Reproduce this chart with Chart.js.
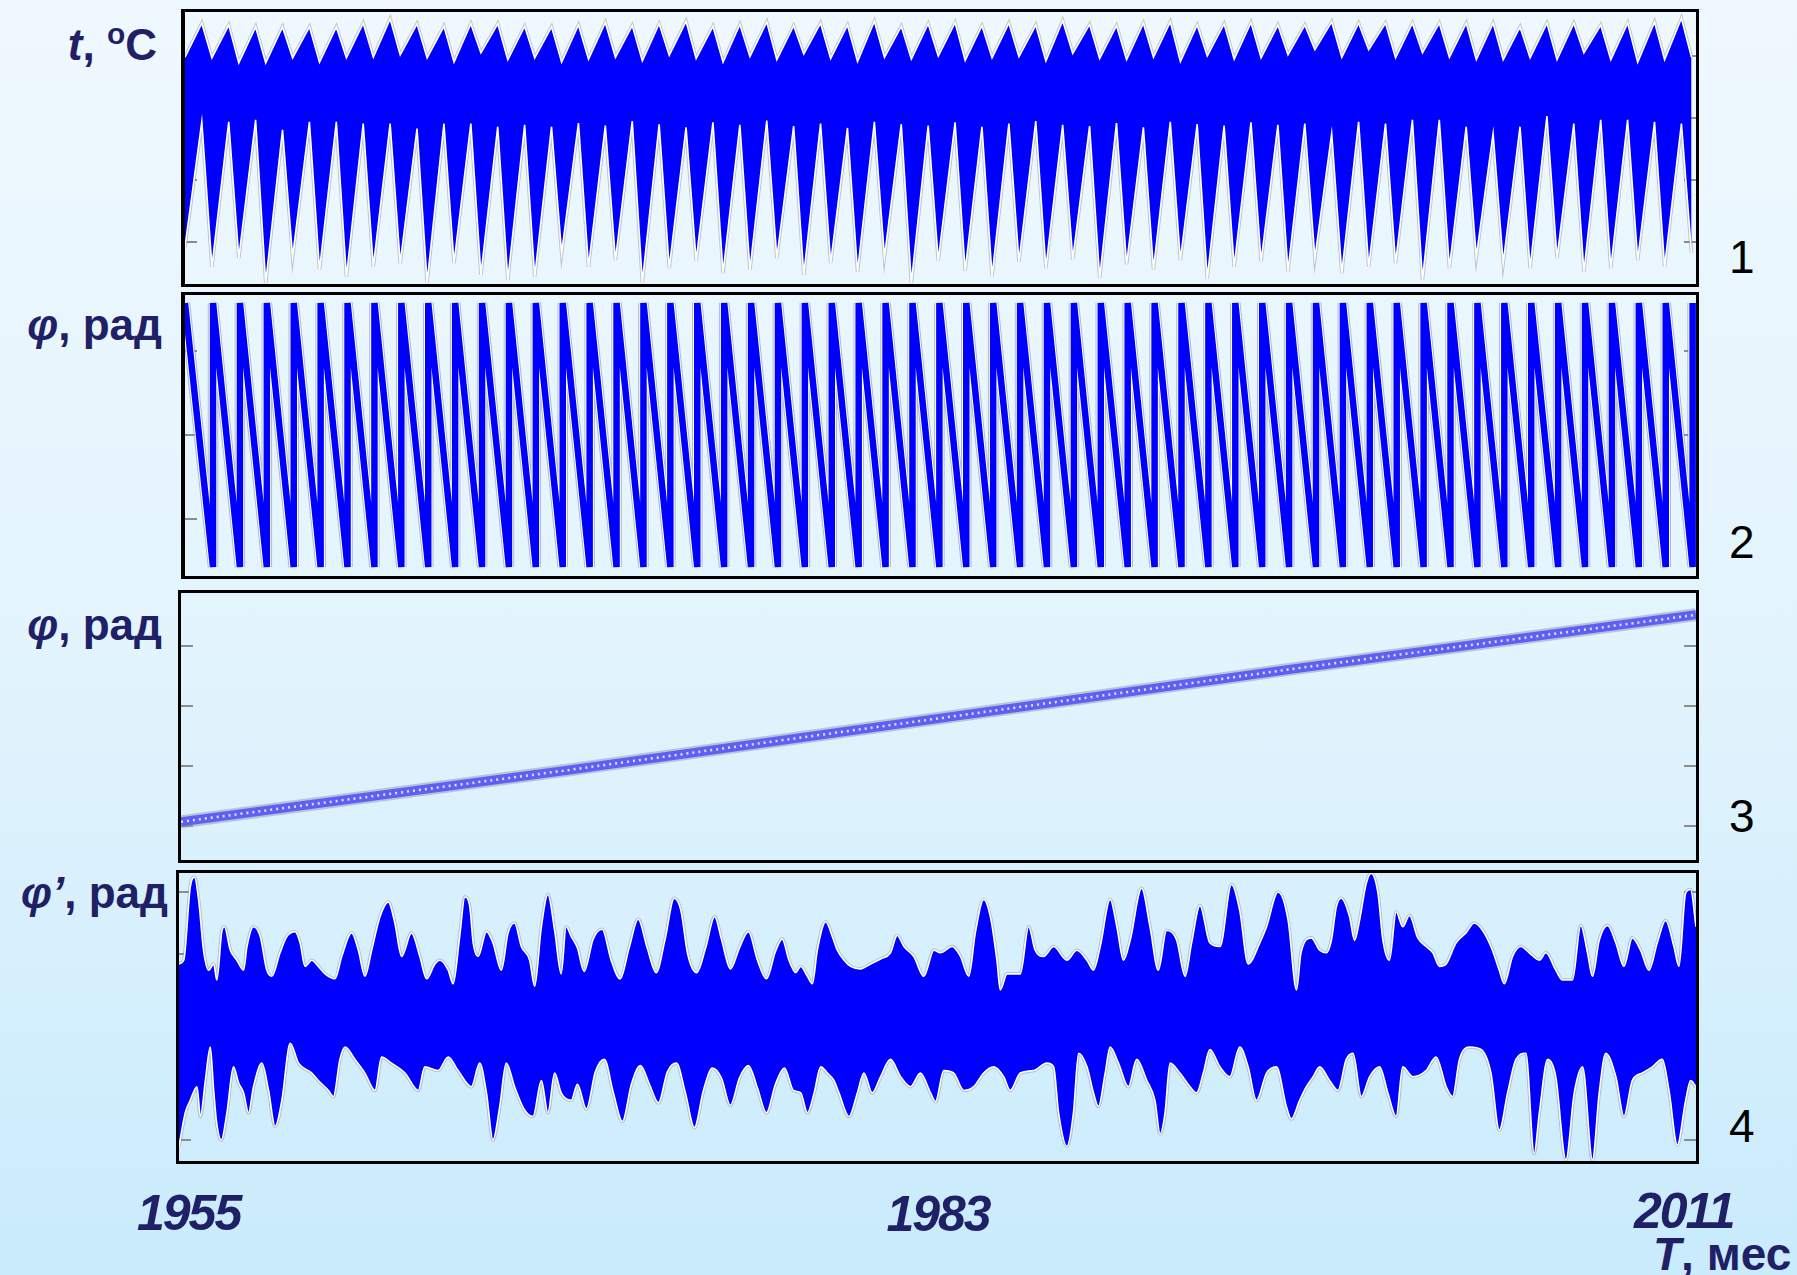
<!DOCTYPE html>
<html>
<head>
<meta charset="utf-8">
<script src="https://cdn.jsdelivr.net/npm/chart.js@4.4.1/dist/chart.umd.min.js"></script>
<style>
  html, body { margin: 0; padding: 0; }
  body {
    width: 1797px; height: 1275px; position: relative; overflow: hidden;
    background: linear-gradient(to bottom, #eff8fe 0%, #e3f4fd 50%, #c9ebfc 100%);
    font-family: "Liberation Sans", Arial, sans-serif;
  }
  .panel { position: absolute; }
  .panel canvas { position: absolute; }
  .frame { position: absolute; left: 0; top: 0; right: 0; bottom: 0; box-sizing: border-box;
           border: 3px solid #000; pointer-events: none; }
  .ylbl { position: absolute; left: 0; color: #1f2066; font-weight: bold; font-size: 44px;
          line-height: 44px; white-space: nowrap; text-align: right; }
  .ylbl .sup { font-size: 0.68em; position: relative; top: -0.55em; }
  .xlbl { position: absolute; color: #1f2066; font-weight: bold; font-style: italic; font-size: 50px;
          line-height: 50px; letter-spacing: -2px; white-space: nowrap; }
  .xtitle { position: absolute; color: #1f2066; font-weight: bold; font-size: 46px; line-height: 46px;
            white-space: nowrap; }
  .num { position: absolute; left: 1729px; color: #000; font-size: 46px; line-height: 46px; }
</style>
</head>
<body>

<div class="ylbl" style="top:23px;width:157px"><i>t</i>, <span class="sup">o</span>C</div>
<div class="ylbl" style="top:303px;width:162px"><i>φ</i>, рад</div>
<div class="ylbl" style="top:603px;width:162px"><i>φ</i>, рад</div>
<div class="ylbl" style="top:871px;width:168px"><i>φ’</i>, рад</div>

<div class="panel" id="p1" style="left:181px;top:9px;width:1518px;height:278px">
  <canvas id="c1" width="1511" height="272" style="left:4px;top:3px"></canvas>
  <div class="frame" style="border-left-width:4px"></div>
</div>
<div class="panel" id="p2" style="left:181px;top:292px;width:1518px;height:287px">
  <canvas id="c2" width="1511" height="281" style="left:4px;top:3px"></canvas>
  <div class="frame" style="border-left-width:4px"></div>
</div>
<div class="panel" id="p3" style="left:178px;top:590px;width:1521px;height:273px">
  <canvas id="c3" width="1515" height="267" style="left:3px;top:3px"></canvas>
  <div class="frame"></div>
</div>
<div class="panel" id="p4" style="left:176px;top:870px;width:1523px;height:294px">
  <canvas id="c4" width="1517" height="288" style="left:3px;top:3px"></canvas>
  <div class="frame"></div>
</div>

<div class="num" style="top:234px">1</div>
<div class="num" style="top:519px">2</div>
<div class="num" style="top:793px">3</div>
<div class="num" style="top:1103px">4</div>

<div id="xlabels"></div>
<div class="xtitle" style="left:1653px;top:1231px"><i>T</i>, мес</div>

<script>
// ---- time axis: months counted from January 1955 ----
const monthSpan = [0, 674];
const yearLabels = ['1955', '1983', '2011'];

// ---- panel 1: daily temperature, °C ----
// Envelope readings for each year k (winter = month 12k, summer = month 12k + 7.5)
const winterMonth = 0;
const summerMonth = 7.5;
const tempWinterMin = [
  -20.8, -24.0, -22.6, -26.6, -22.4, -24.5, -25.6, -24.0, -23.4, -26.5,
  -23.4, -25.3, -26.1, -25.6, -21.8, -24.0, -22.9, -26.5, -24.2, -23.0,
  -25.0, -24.5, -22.6, -25.3, -23.4, -24.8, -22.4, -26.6, -23.0, -24.6,
  -25.5, -23.2, -24.2, -22.8, -25.8, -23.6, -24.4, -22.9, -25.9, -24.0,
  -23.1, -24.7, -22.6, -25.0, -24.0, -23.4, -26.1, -24.2, -22.4, -23.4,
  -24.2, -22.6, -24.8, -24.2, -22.9, -24.0, -21.8
];
const tempWinterMax = [
  9.8, 9.7, 8.9, 8.9, 9.7, 9.0, 9.7, 9.8, 10.2, 9.7,
  9.0, 10.5, 9.4, 9.7, 9.0, 9.5, 9.8, 9.2, 10.1, 9.6,
  9.0, 9.9, 9.4, 10.3, 9.6, 9.1, 9.8, 9.5, 10.0, 9.3,
  9.7, 9.9, 9.2, 10.4, 9.6, 9.4, 9.8, 9.1, 10.0, 9.5,
  9.7, 10.2, 11.0, 9.8, 11.0, 9.7, 10.5, 9.8, 9.4, 9.4,
  9.7, 9.4, 10.5, 9.4, 9.0, 9.4, 9.8
];
const tempSummerMax = [
  15.3, 15.0, 14.7, 14.7, 14.7, 14.7, 15.3, 16.0, 15.2, 14.8,
  15.2, 15.2, 14.8, 14.7, 15.0, 15.4, 14.9, 15.2, 15.6, 14.8,
  15.1, 15.5, 14.9, 15.3, 15.0, 15.6, 14.8, 15.2, 15.4, 14.9,
  15.3, 15.0, 15.7, 15.1, 14.9, 15.3, 15.5, 15.0, 15.2, 15.4,
  15.0, 15.0, 15.5, 15.3, 15.3, 15.3, 15.3, 15.3, 15.3, 14.7,
  15.3, 15.3, 15.0, 15.3, 15.5, 16.1
];
const tempSummerMin = [
  -0.6, -0.6, -0.3, -1.9, -0.6, -0.6, -0.9, -0.9, -1.7, -0.9,
  -0.9, -1.4, -1.1, -1.4, -0.8, -1.2, -0.5, -1.0, -1.5, -0.7,
  -1.1, -0.4, -1.3, -0.9, -1.6, -0.6, -1.0, -1.2, -0.7, -1.4,
  -0.9, -0.5, -1.1, -1.3, -0.8, -1.5, -0.6, -1.0, -1.2, -0.7,
  -1.1, -0.9, -2.5, -0.6, -0.9, -0.3, -0.3, -1.4, -2.5, -1.4,
  0.3, -0.9, -0.3, -0.3, -0.6, -0.9
];
const tempTicks = [-20, -10, 0, 10];

// ---- panel 2: wrapped phase, rad ----
const phaseTop = 3.14;
const phaseBottom = -3.14;
const phaseWrapOffset = 0.5;   // months after January where the phase wraps
const phaseTicks = [-2, 0, 2];

// ---- panel 3: unwrapped phase, rad ----
const unwrapMonths = [0, 172, 497, 674];
const unwrapValues = [7, 93, 263, 352];
const unwrapTicks = [0, 100, 200, 300];

// ---- panel 4: phase residual φ', rad  [month, value] ----
const resUpper = [
  [0,0.42],[2.1,0.45],[5.0,1.04],[6.9,1.12],[8.7,0.94],[10.9,0.53],[13.2,0.37],[15.4,0.42],[16.8,0.29],
  [19.1,0.69],[20.2,0.72],[22.8,0.53],[25.7,0.45],[28.7,0.37],[30.2,0.56],[33.1,0.72],[36.1,0.64],
  [39.0,0.37],[41.2,0.32],[44.9,0.51],[47.9,0.64],[51.6,0.68],[53.8,0.59],[56.0,0.40],[59.0,0.45],
  [61.9,0.40],[64.9,0.34],[69.3,0.30],[72.3,0.48],[76.7,0.67],[79.7,0.53],[82.6,0.32],[85.6,0.53],
  [89.3,0.80],[93.0,0.92],[95.9,0.75],[98.9,0.48],[103.3,0.67],[107.0,0.48],[110.0,0.30],[113.7,0.42],
  [115.9,0.45],[119.6,0.37],[121.8,0.26],[124.7,0.64],[127.0,0.96],[129.2,0.88],[130.7,0.59],[132.9,0.48],
  [136.6,0.68],[139.5,0.59],[143.2,0.37],[146.2,0.67],[149.1,0.75],[152.1,0.56],[155.8,0.45],[158.0,0.24],
  [161.0,0.72],[163.9,0.98],[166.9,0.69],[169.8,0.34],[172.0,0.72],[174.3,0.64],
  [177,0.55],[180,0.36],[184,0.62],[188,0.70],[192,0.45],[196,0.30],[200,0.55],[204,0.78],[208,0.55],
  [212,0.35],[216,0.62],[220,0.95],[223,0.85],[226,0.50],[230,0.35],[234,0.55],[238,0.80],[241,0.62],
  [245,0.38],[249,0.55],[253,0.68],[257,0.45],[261,0.30],[265,0.52],[268,0.62],[271,0.45],[274,0.35],
  [276.2,0.40],[279.2,0.32],[281.4,0.26],[283.6,0.53],[287.3,0.76],[290.3,0.64],[292.5,0.53],[295.5,0.45],
  [298.4,0.40],[302.8,0.38],[307.3,0.42],[311.7,0.46],[316.1,0.51],[319.1,0.65],[322.1,0.56],[326.5,0.48],
  [330.9,0.32],[335.4,0.53],[338.3,0.51],[343.5,0.56],[347.2,0.48],[350.9,0.32],[353.8,0.67],[357.5,0.94],
  [360.5,0.80],[363.4,0.45],[364.9,0.21],[367.9,0.34],[373.8,0.34],[377.5,0.72],[380.4,0.53],[384.1,0.48],
  [388.6,0.56],[394.5,0.45],[398.9,0.53],[403.4,0.45],[406.3,0.37],[409.3,0.56],[413.7,0.94],[416.7,0.72],
  [419.6,0.45],[422.6,0.61],[427.7,1.03],[431.4,0.72],[435.1,0.37],[438.8,0.69],[443.3,0.61],[447.0,0.32],
  [449.9,0.59],[453.6,0.89],[458.0,0.59],[462.5,0.56],[467.6,1.06],[471.3,0.85],[475.0,0.42],[480.2,0.59],
  [483.2,0.72],[488.3,1.00],[492.8,0.77],[496.5,0.21],[498.5,0.51],[503.1,0.63],[506.8,0.53],[509.8,0.51],
  [512.0,0.61],[514.2,0.88],[516.4,0.95],[520.1,0.80],[522.3,0.61],[524.5,0.77],[527.5,1.07],[529.7,1.15],
  [532.7,0.99],[534.9,0.61],[537.8,0.45],[540.8,0.84],[543.7,0.72],[546.7,0.81],[550.4,0.63],[554.1,0.56],
  [557.1,0.51],[560.0,0.40],[563.0,0.42],[567.4,0.59],[571.8,0.67],[575.5,0.75],[579.2,0.69],[582.9,0.56],
  [586.6,0.37],[588.8,0.26],[592.5,0.48],[596.2,0.56],[599.9,0.51],[604.4,0.45],[607.3,0.51],[611.7,0.37],
  [614.7,0.29],[619.1,0.29],[622.8,0.73],[625.8,0.51],[628.0,0.32],[631.0,0.61],[634.7,0.73],[638.4,0.59],
  [642.0,0.40],[645.7,0.63],[649.4,0.53],[653.1,0.37],[656.8,0.59],[660.5,0.77],[664.2,0.56],[666.4,0.40],
  [669.4,0.99],[671.6,1.02],[674,0.72]
];
const resLower = [
  [0,-1.05],[2.8,-0.78],[5.0,-0.68],[8.0,-0.57],[9.5,-0.81],[11.7,-0.52],[13.9,-0.25],[15.4,-0.60],
  [16.8,-0.87],[18.8,-1.00],[21.3,-0.78],[24.2,-0.41],[26.5,-0.54],[28.7,-0.62],[30.9,-0.78],[33.1,-0.57],
  [36.8,-0.38],[39.8,-0.60],[42.7,-0.89],[45.7,-0.68],[49.4,-0.22],[53.1,-0.38],[59.0,-0.46],[61.9,-0.52],
  [66.4,-0.60],[68.6,-0.65],[71.5,-0.35],[73.8,-0.25],[78.2,-0.35],[82.6,-0.46],[87.1,-0.60],[90.0,-0.33],
  [94.4,-0.38],[100.4,-0.46],[106.3,-0.60],[109.2,-0.41],[115.1,-0.44],[119.6,-0.33],[124.0,-0.44],
  [129.9,-0.57],[133.6,-0.38],[136.6,-0.62],[139.5,-1.00],[142.5,-0.73],[145.4,-0.38],[149.1,-0.57],
  [153.6,-0.76],[157.3,-0.81],[161.0,-0.52],[163.9,-0.78],[166.9,-0.46],[169.8,-0.62],[174.3,-0.68],
  [177,-0.55],[181,-0.75],[185,-0.45],[189,-0.35],[193,-0.62],[197,-0.85],[201,-0.55],[205,-0.40],
  [209,-0.55],[213,-0.70],[217,-0.45],[221,-0.38],[225,-0.62],[229,-0.90],[233,-0.60],[237,-0.42],
  [241,-0.50],[245,-0.72],[249,-0.50],[253,-0.40],[257,-0.58],[261,-0.78],[265,-0.55],[269,-0.42],[273,-0.60],
  [276.2,-0.62],[279.2,-0.78],[282.2,-0.62],[285.1,-0.41],[288.1,-0.46],[291.0,-0.52],[293.2,-0.62],
  [297.7,-0.81],[301.4,-0.62],[304.3,-0.46],[308.0,-0.62],[311.7,-0.49],[316.1,-0.35],[320.6,-0.49],
  [325.0,-0.57],[329.4,-0.46],[333.9,-0.62],[336.1,-0.69],[339.8,-0.44],[344.2,-0.46],[348.7,-0.60],
  [353.1,-0.57],[357.5,-0.46],[362.0,-0.41],[366.4,-0.49],[369.3,-0.60],[373.8,-0.46],[379.7,-0.44],
  [385.6,-0.38],[388.6,-0.41],[390.8,-0.78],[394.5,-1.05],[397.4,-0.78],[399.7,-0.30],[403.4,-0.41],
  [406.3,-0.62],[408.5,-0.73],[411.5,-0.46],[413.7,-0.25],[417.4,-0.38],[421.8,-0.57],[425.5,-0.35],
  [430.0,-0.52],[433.6,-0.68],[435.9,-0.95],[438.1,-0.78],[440.3,-0.38],[444.7,-0.46],[449.2,-0.57],
  [452.1,-0.62],[455.1,-0.46],[458.0,-0.27],[462.5,-0.41],[466.9,-0.49],[471.3,-0.25],[475.0,-0.41],
  [478.7,-0.68],[483.2,-0.46],[487.6,-0.41],[492.0,-0.73],[494.2,-0.83],[497.9,-0.68],[500.9,-0.57],
  [503.9,-0.49],[506.8,-0.41],[511.2,-0.52],[514.9,-0.60],[518.6,-0.35],[521.6,-0.30],[525.3,-0.65],
  [529.0,-0.49],[533.4,-0.41],[537.1,-0.62],[540.8,-0.81],[543.7,-0.41],[548.2,-0.49],[554.1,-0.44],
  [558.5,-0.33],[563.0,-0.57],[565.9,-0.65],[568.9,-0.35],[573.3,-0.25],[578.5,-0.27],[582.9,-0.46],
  [586.6,-0.92],[590.3,-0.62],[594.0,-0.35],[598.4,-0.30],[602.1,-1.11],[604.4,-0.78],[608.1,-0.35],
  [611.7,-0.49],[616.2,-1.16],[619.9,-0.62],[623.6,-0.41],[628.0,-1.16],[631.0,-0.62],[633.9,-0.30],
  [638.4,-0.49],[642.0,-0.81],[645.7,-0.52],[650.2,-0.46],[654.6,-0.41],[659.0,-0.35],[662.0,-0.60],
  [665.7,-1.04],[669.4,-0.68],[671.6,-0.52],[674,-0.57]
];
const residualTicks = [-1, -0.5, 0, 0.5, 1];

// ---- colours ----
const BLUE = '#0000ff';
const EDGE_GREY = 'rgba(135,135,135,0.45)';

// Small inward tick marks on both vertical edges of each panel
const insideTicks = {
  id: 'insideTicks',
  beforeDatasetsDraw(chart, args, opts) {
    const { ctx, chartArea: a } = chart;
    const y = chart.scales.y;
    ctx.save();
    ctx.strokeStyle = '#8c8c8c';
    ctx.lineWidth = 2;
    for (const v of opts.values || []) {
      const py = Math.round(y.getPixelForValue(v));
      ctx.beginPath();
      ctx.moveTo(a.left, py); ctx.lineTo(a.left + 12, py);
      ctx.moveTo(a.right - 12, py); ctx.lineTo(a.right, py);
      ctx.stroke();
    }
    ctx.restore();
  }
};

function makePanel(canvasId, yMin, yMax, datasets, tickValues) {
  return new Chart(document.getElementById(canvasId), {
    type: 'line',
    data: { datasets },
    options: {
      responsive: false,
      animation: false,
      devicePixelRatio: 1,
      events: [],
      parsing: false,
      layout: { padding: 0 },
      elements: { point: { radius: 0, hoverRadius: 0 }, line: { tension: 0 } },
      plugins: {
        legend: { display: false },
        tooltip: { enabled: false },
        filler: { propagate: false },
        insideTicks: { values: tickValues }
      },
      scales: {
        x: { type: 'linear', min: monthSpan[0], max: monthSpan[1], display: false },
        y: { type: 'linear', min: yMin, max: yMax, display: false }
      }
    },
    plugins: [insideTicks]
  });
}

// Filled band between an upper and a lower trace, with a thin light rim
function bandDatasets(upper, lower, smooth) {
  const mode = smooth ? 'monotone' : 'default';
  return [
    { data: upper, borderColor: EDGE_GREY, borderWidth: 3.5, fill: false, order: 4, cubicInterpolationMode: mode },
    { data: lower, borderColor: EDGE_GREY, borderWidth: 3.5, fill: false, order: 4, cubicInterpolationMode: mode },
    { data: upper, borderColor: '#ffffff', borderWidth: 1.6, fill: 3, backgroundColor: BLUE, order: 2, cubicInterpolationMode: mode },
    { data: lower, borderColor: '#ffffff', borderWidth: 1.6, fill: false, order: 1, cubicInterpolationMode: mode }
  ];
}

// ---- panel 1 ----
const tempUpper = [], tempLower = [];
for (let k = 0; k < tempWinterMin.length; k++) {
  const m = 12 * k;
  tempUpper.push({ x: m + winterMonth, y: tempWinterMax[k] });
  tempLower.push({ x: m + winterMonth, y: tempWinterMin[k] });
  if (k < tempSummerMax.length) {
    tempUpper.push({ x: m + summerMonth, y: tempSummerMax[k] });
    tempLower.push({ x: m + summerMonth, y: tempSummerMin[k] });
  }
}
makePanel('c1', -26.77, 17.10, bandDatasets(tempUpper, tempLower, false), tempTicks);

// ---- panel 2 ----
const phaseWrapped = [{ x: 0, y: phaseTop }];
for (let k = 1; k < tempWinterMin.length; k++) {
  const m = 12 * k + phaseWrapOffset;
  phaseWrapped.push({ x: m, y: phaseBottom });
  phaseWrapped.push({ x: m, y: phaseTop });
}
makePanel('c2', -3.357, 3.333, [
  { data: phaseWrapped, borderColor: 'rgba(130,130,130,0.5)', borderWidth: 10.5, fill: false, order: 3 },
  { data: phaseWrapped, borderColor: '#ffffff', borderWidth: 8.5, fill: false, order: 2 },
  { data: phaseWrapped, borderColor: BLUE, borderWidth: 6.5, fill: false, order: 1 }
], phaseTicks);

// ---- panel 3 ----
const phaseUnwrapped = unwrapMonths.map((m, i) => ({ x: m, y: unwrapValues[i] }));
makePanel('c3', -56.7, 388.3, [
  { data: phaseUnwrapped, borderColor: 'rgba(150,155,190,0.55)', borderWidth: 13, fill: false, order: 3 },
  { data: phaseUnwrapped, borderColor: '#5f5ff3', borderWidth: 9, fill: false, order: 2 },
  { data: phaseUnwrapped, borderColor: 'rgba(235,240,255,0.9)', borderWidth: 2.5, borderDash: [2, 4], fill: false, order: 1 }
], unwrapTicks);

// ---- panel 4 ----
const toPoints = arr => arr.map(p => ({ x: p[0], y: p[1] }));
makePanel('c4', -1.169, 1.153, bandDatasets(toPoints(resUpper), toPoints(resLower), true), residualTicks);

// ---- year labels under the panels ----
const xLabelBox = document.getElementById('xlabels');
const xLabelPlace = [
  'left:137px;top:1188px',
  'left:938px;top:1189px;transform:translateX(-50%)',
  'left:1634px;top:1186px'
];
yearLabels.forEach((txt, i) => {
  const d = document.createElement('div');
  d.className = 'xlbl';
  d.style.cssText = xLabelPlace[i];
  d.textContent = txt;
  xLabelBox.appendChild(d);
});
</script>
</body>
</html>
